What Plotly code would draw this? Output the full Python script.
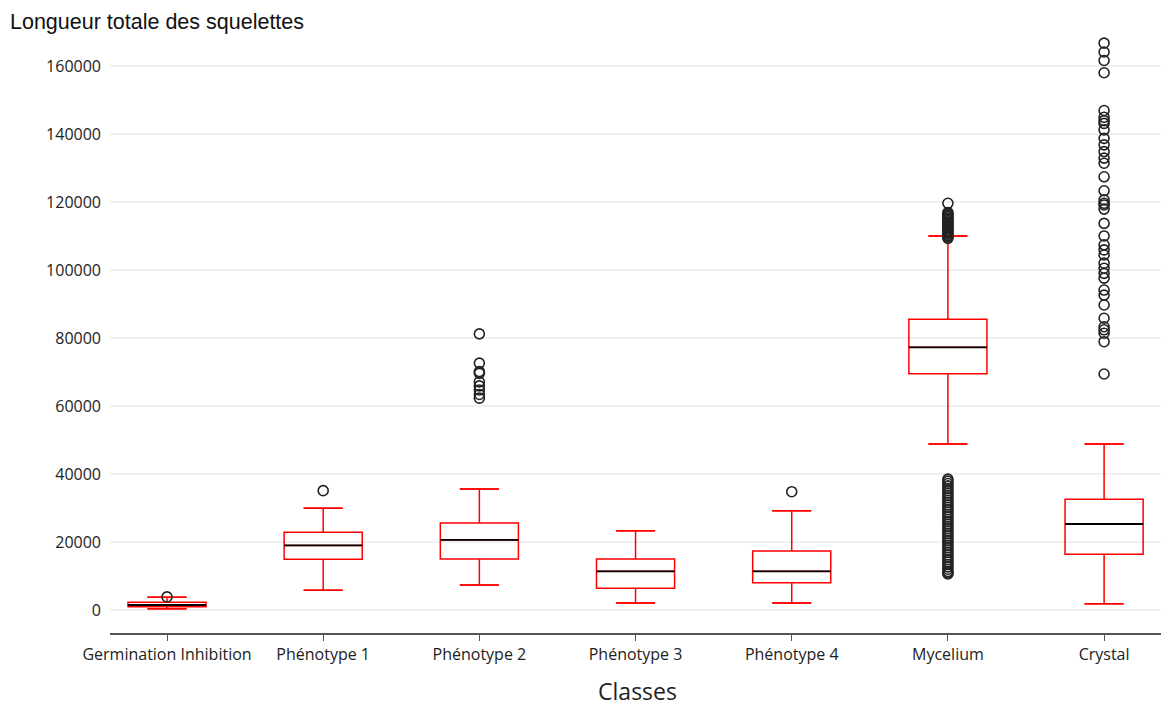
import plotly.graph_objects as go

categories = ["Germination Inhibition", "Phénotype 1", "Phénotype 2", "Phénotype 3",
              "Phénotype 4", "Mycelium", "Crystal"]
q1 = [970, 14900, 15000, 6370, 8040, 69500, 16380]
median = [1470, 19000, 20600, 11370, 11370, 77260, 25290]
q3 = [2260, 22850, 25600, 15000, 17350, 85500, 32550]
lower_whisker = [390, 5800, 7350, 2060, 2060, 48800, 1850]
upper_whisker = [3750, 29900, 35600, 23330, 29200, 110000, 48800]

outliers = {
    "Germination Inhibition": [3850],
    "Phénotype 1": [35100],
    "Phénotype 2": [81200, 72600, 70100, 69600, 67100, 65900, 64700, 63400, 62300],
    "Phénotype 3": [],
    "Phénotype 4": [34800],
    "Mycelium": [119600, 116900, 116500, 116100, 115700, 115300, 114900, 114500, 114100,
                 113700, 113300, 112900, 112500, 112100, 111700, 111300, 110900, 110500,
                 110100, 109700, 109300,
                 38500, 37900, 37200, 36500, 35800, 35100, 34400, 33700, 33000, 32300,
                 31600, 30900, 30200, 29500, 28800, 28100, 27400, 26700, 26000, 25300,
                 24600, 23900, 23200, 22500, 21800, 21100, 20400, 19700, 19000, 18300,
                 17600, 16900, 16200, 15500, 14800, 14100, 13400, 12700, 12000, 11300,
                 10900, 10600],
    "Crystal": [166700, 164100, 161600, 158000, 146900, 144900, 143900, 143100, 141200,
                138700, 136800, 134800, 132900, 131400, 127400, 123300, 120600, 119100,
                119600, 117900, 113700, 110000, 107400, 105900, 104400, 102000, 100500,
                99000, 97600, 94100, 92600, 89700, 85800, 83300, 82400, 81400, 78900,
                69400],
}

RED = "#ff0000"
fig = go.Figure()

# main boxes with whiskers
fig.add_trace(go.Box(
    x=categories, q1=q1, median=median, q3=q3,
    lowerfence=lower_whisker, upperfence=upper_whisker,
    boxpoints=False, width=0.5, fillcolor="rgba(255,255,255,0)",
    line=dict(color=RED, width=1.5), hoverinfo="skip", showlegend=False))

# black median lines
fig.add_trace(go.Box(
    x=categories, q1=median, median=median, q3=median,
    lowerfence=median, upperfence=median,
    boxpoints=False, width=0.5, fillcolor="rgba(0,0,0,0)",
    line=dict(color="#000000", width=1.8), hoverinfo="skip", showlegend=False))

# whisker caps
for vals in (lower_whisker, upper_whisker):
    fig.add_trace(go.Box(
        x=categories, q1=vals, median=vals, q3=vals,
        lowerfence=vals, upperfence=vals,
        boxpoints=False, width=0.25, fillcolor="rgba(0,0,0,0)",
        line=dict(color=RED, width=1.5), hoverinfo="skip", showlegend=False))

# outliers
ox, oy = [], []
for c in categories:
    for v in outliers[c]:
        ox.append(c)
        oy.append(v)
fig.add_trace(go.Scatter(
    x=ox, y=oy, mode="markers",
    marker=dict(symbol="circle-open", size=10, color="#222222", line=dict(width=1.6)),
    hoverinfo="skip", showlegend=False))

fig.update_layout(
    width=1169, height=707,
    paper_bgcolor="white", plot_bgcolor="white",
    margin=dict(l=102, r=12, t=27, b=82),
    font=dict(family="Open Sans, DejaVu Sans, sans-serif", color="#222222"),
    title=dict(text="Longueur totale des squelettes", x=2 / 1169, xref="container",
               xanchor="left", y=1 - 13 / 707, yref="container", yanchor="middle",
               font=dict(family="Liberation Sans, Arial, sans-serif", size=21.5, color="#111111")),
    boxmode="overlay",
)
fig.update_xaxes(
    type="category", categoryorder="array", categoryarray=categories,
    range=[-0.365, 6.39],
    showline=True, linecolor="#555555", linewidth=1.5,
    ticks="outside", ticklen=6, tickcolor="#555555",
    showgrid=False, tickfont=dict(size=16),
    title=dict(text="Classes", font=dict(size=23), standoff=20),
)
fig.update_yaxes(
    range=[-6760, 169100],
    tickvals=[0, 20000, 40000, 60000, 80000, 100000, 120000, 140000, 160000],
    ticktext=["0", "20000", "40000", "60000", "80000", "100000", "120000", "140000", "160000"],
    showgrid=True, gridcolor="#f0f0f0", gridwidth=1.5,
    zeroline=False, showline=False, ticks="", tickfont=dict(size=16),
    ticklabelstandoff=8,
)

fig.write_html("out.html")
